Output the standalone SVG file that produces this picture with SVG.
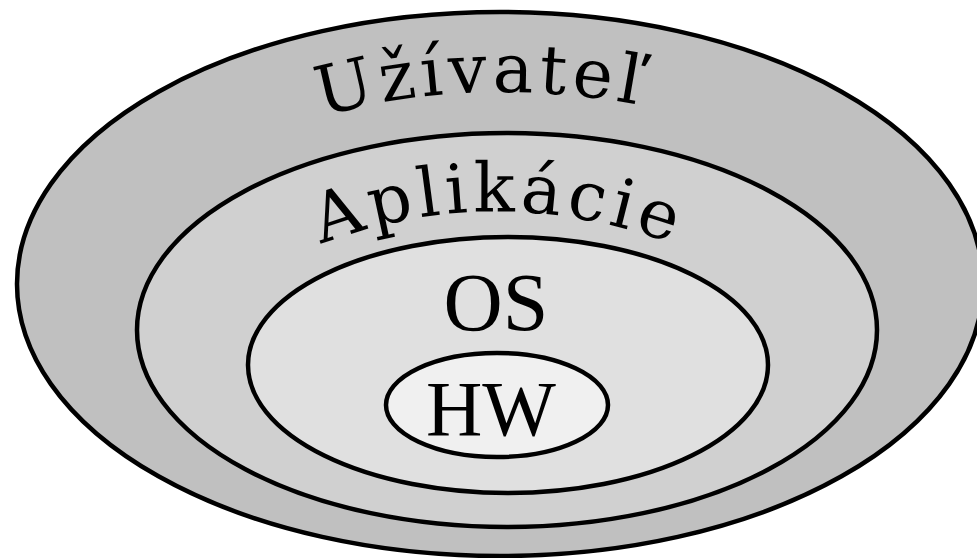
<svg xmlns="http://www.w3.org/2000/svg" width="977" height="558" viewBox="0 0 977 558">
  <style>
    .ring { stroke: #000; stroke-width: 4.5; }
    .arc-label { font-family: "DejaVu Serif", "Liberation Serif", serif; fill: #000; }
    .label { font-family: "Liberation Serif", "Times New Roman", serif; fill: #000; text-anchor: middle; }
  </style>
  <defs>
    <path id="arc-user" d="M 310 120 Q 490 66 690 116"/>
    <path id="arc-app" d="M 312 248 Q 500 172 700 254"/>
  </defs>
  <rect width="977" height="558" fill="#fff"/>
  <g id="user">
    <ellipse class="ring" cx="500" cy="284" rx="483" ry="272" fill="#c0c0c0"/>
    <text class="arc-label" font-size="68" letter-spacing="5"><textPath href="#arc-user" startOffset="12">Užívateľ</textPath></text>
  </g>
  <g id="apps">
    <ellipse class="ring" cx="507" cy="330" rx="370" ry="197" fill="#d0d0d0"/>
    <text class="arc-label" font-size="68" letter-spacing="5"><textPath href="#arc-app" startOffset="10">Aplikácie</textPath></text>
  </g>
  <g id="os">
    <ellipse class="ring" cx="508" cy="365" rx="260" ry="128" fill="#e0e0e0"/>
    <text class="label" x="496" y="330" font-size="82">OS</text>
  </g>
  <g id="hw">
    <ellipse class="ring" cx="497" cy="405" rx="111" ry="52" fill="#f0f0f0"/>
    <text class="label" x="491" y="435" font-size="78">HW</text>
  </g>
</svg>
